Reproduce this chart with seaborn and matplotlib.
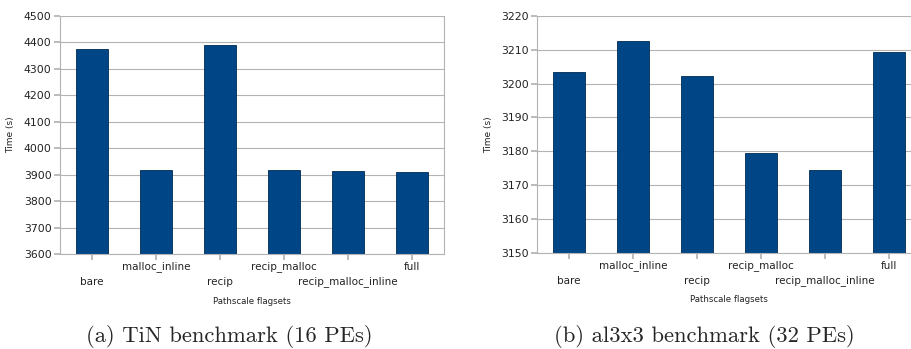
import pandas as pd
import seaborn as sns
import matplotlib.pyplot as plt

# flagsets used in both runs
flagsets = ['bare', 'malloc_inline', 'recip', 'recip_malloc', 'recip_malloc_inline', 'full']

# wall times (s)
tin_times = [4375, 3916, 4391, 3916, 3914, 3911]
al3x3_times = [3203.3, 3212.5, 3202.3, 3179.5, 3174.4, 3209.3]

tin_ticks = [3600, 3700, 3800, 3900, 4000, 4100, 4200, 4300, 4400, 4500]
al3x3_ticks = [3150, 3160, 3170, 3180, 3190, 3200, 3210, 3220]

captions = ['(a) TiN benchmark (16 PEs)', '(b) al3x3 benchmark (32 PEs)']

sns.set_theme(style='white')
plt.rcParams['font.family'] = ['DejaVu Sans']

bar_color = '#004586'
grid_color = '#b3b3b3'
text_color = '#222222'

fig = plt.figure(figsize=(9.11, 3.49), dpi=100)
W, H = 911, 349
PX = 0.72  # pixels -> points at dpi 100
# axes boxes in pixel coords (left, top, right, bottom)
boxes = [(60, 15.7, 444, 254), (537, 15.7, 921, 253)]


def draw(box, times, ticks, caption, cap_x):
    l, t, r, b = box
    ax = fig.add_axes([l / W, 1 - b / H, (r - l) / W, (b - t) / H])
    df = pd.DataFrame({'flagset': flagsets, 'time': times})
    sns.barplot(data=df, x='flagset', y='time', color=bar_color, width=0.5,
                edgecolor='#002a52', linewidth=0.6, saturation=1, ax=ax)
    ax.set_ylim(ticks[0], ticks[-1])
    ax.set_yticks(ticks)
    ax.set_xlim(-0.5, len(flagsets) - 0.5)
    ax.yaxis.grid(True, color=grid_color, linewidth=0.8)
    ax.set_axisbelow(True)
    for side in ['left', 'right', 'bottom']:
        ax.spines[side].set_color(grid_color)
        ax.spines[side].set_linewidth(0.8)
    ax.spines['top'].set_visible(False)
    ax.tick_params(axis='y', length=4, color=grid_color, labelsize=7.8,
                   labelcolor=text_color, pad=2, left=True)
    ax.tick_params(axis='x', length=4, color=grid_color, bottom=True, labelbottom=False)
    # staggered category labels
    for i, name in enumerate(flagsets):
        dy = 13 if i % 2 else 28
        ax.annotate(name, xy=(i, 0), xycoords=ax.get_xaxis_transform(),
                    xytext=(0, -dy * PX), textcoords='offset points',
                    ha='center', va='center', fontsize=7.5, color=text_color)
    ax.set_xlabel('')
    ax.set_ylabel('Time (s)', fontsize=6.5, color=text_color, labelpad=6)
    ax.annotate('Pathscale flagsets', xy=(0.5, 0), xycoords='axes fraction',
                xytext=(0, -47 * PX), textcoords='offset points',
                ha='center', va='center', fontsize=6.2, color=text_color)
    fig.text(cap_x / W, 1 - 342 / H, caption, ha='center', va='baseline',
             fontsize=16.3, family='cmr10')
    return ax


draw(boxes[0], tin_times, tin_ticks, captions[0], 229)
draw(boxes[1], al3x3_times, al3x3_ticks, captions[1], 704)

fig.savefig('out.png', dpi=100)
